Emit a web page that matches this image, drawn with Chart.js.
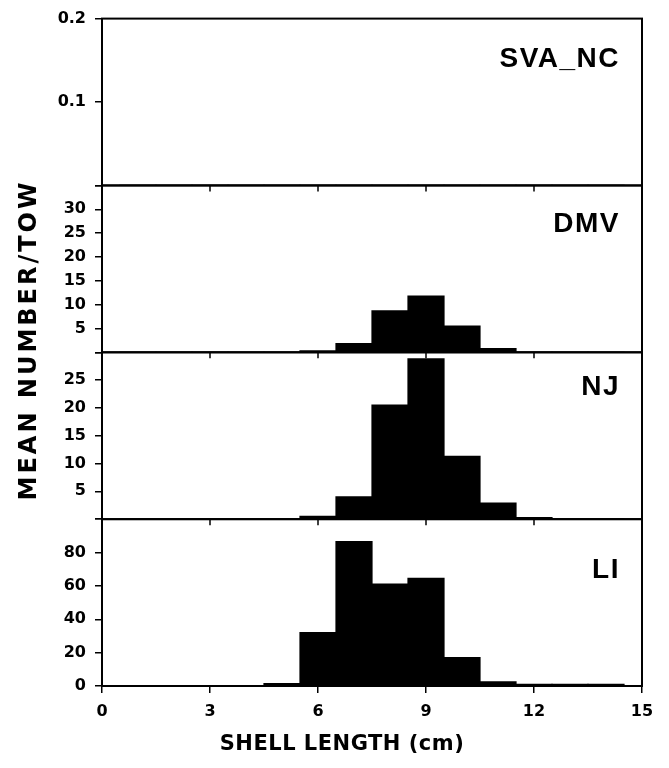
<!DOCTYPE html>
<html>
<head>
<meta charset="utf-8">
<script src="https://cdn.jsdelivr.net/npm/chart.js@4"></script>
<style>
  html, body { margin: 0; padding: 0; background: #fff; }
  #wrap { width: 669px; height: 768px; }
</style>
</head>
<body>
<div id="wrap"><canvas id="chart" width="669" height="768"></canvas></div>
<script>
// Shell length bins (cm, bin centres) and mean number per tow by region
const binCenters = [1, 2, 3, 4, 5, 6, 7, 8, 9, 10, 11, 12, 13, 14];
const svaNc = [0, 0, 0, 0, 0, 0, 0, 0, 0, 0, 0, 0, 0, 0];
const dmv   = [0, 0, 0, 0, 0, 0.3, 1.8, 8.7, 11.8, 5.5, 0.8, 0, 0, 0];
const nj    = [0, 0, 0, 0, 0, 0.5, 4, 20.5, 28.8, 11.3, 2.9, 0.3, 0, 0];
const li    = [0, 0, 0, 0, 1.5, 32, 86.5, 61, 64.5, 17, 2.5, 1, 1, 1];

const regionNames = ["SVA_NC", "DMV", "NJ", "LI"];
const regionSeries = [svaNc, dmv, nj, li];
const regionMax = [0.2, 35, 30, 100];
const regionStep = [0.1, 5, 5, 20];
const xTickStep = 3;

(function () {
  const ink = "#000";
  const tickFont = { family: "'DejaVu Sans'", size: 16, weight: "bold" };
  const labelDy = [41, 39, 35, 51];

  // y axes listed bottom-up: the last one listed ends up on top of the stack
  const scales = {
    x: {
      type: "linear", position: "bottom", min: 0, max: 15, offset: false,
      ticks: { stepSize: xTickStep, color: ink, font: tickFont, padding: 9, maxRotation: 0 },
      grid: { display: true, drawOnChartArea: false, drawTicks: true, tickLength: 7, color: ink, lineWidth: 1.5, offset: false },
      border: { display: true, color: ink, width: 2 },
      afterFit: s => { s.height = 82; }
    }
  };
  for (let i = regionNames.length - 1; i >= 0; i--) {
    const max = regionMax[i];
    scales["y" + i] = {
      type: "linear", position: "left", stack: "panels", stackWeight: 1,
      min: 0, max: max,
      ticks: {
        stepSize: regionStep[i], color: ink, font: tickFont, padding: 9, autoSkip: false,
        callback: v => {
          if (i === 3) return v === max ? "" : String(v);
          if (v === 0 || Math.abs(v - max) < 1e-9 && i !== 0) return "";
          return i === 0 ? v.toFixed(1) : String(v);
        }
      },
      grid: { display: true, drawOnChartArea: false, drawTicks: true, tickLength: 7, color: ink, lineWidth: 1.5 },
      border: { display: true, color: ink, width: 2 },
      afterFit: s => { s.width = 102; }
    };
  }

  const datasets = regionSeries.map((series, i) => ({
    label: regionNames[i],
    yAxisID: "y" + i,
    data: binCenters.map((c, k) => ({ x: c, y: series[k] })),
    backgroundColor: ink,
    borderWidth: 0,
    inflateAmount: 0.6,
    barPercentage: 1,
    categoryPercentage: 1,
    grouped: false
  }));

  const panelPlugin = {
    id: "panels",
    afterDraw(chart) {
      const ctx = chart.ctx;
      const area = chart.chartArea;
      const xs = chart.scales.x;
      ctx.save();
      ctx.strokeStyle = ink;
      ctx.fillStyle = ink;
      regionNames.forEach((name, i) => {
        const s = chart.scales["y" + i];
        ctx.lineWidth = 2;
        ctx.strokeRect(area.left, s.top, area.right - area.left, s.bottom - s.top);
        if (i < regionNames.length - 1) {
          ctx.lineWidth = 1.5;
          xs.ticks.forEach(t => {
            const px = xs.getPixelForValue(t.value);
            ctx.beginPath();
            ctx.moveTo(px, s.bottom);
            ctx.lineTo(px, s.bottom + 6);
            ctx.stroke();
          });
        }
        ctx.font = "bold 28px 'Liberation Sans'";
        ctx.letterSpacing = "1.5px";
        ctx.textAlign = "right";
        ctx.textBaseline = "middle";
        ctx.fillText(name, area.right - 22, s.top + labelDy[i]);
      });

      // y axis title
      ctx.save();
      ctx.translate(30, 340);
      ctx.rotate(-Math.PI / 2);
      ctx.font = "bold 24px 'DejaVu Sans'";
      ctx.letterSpacing = "3px";
      ctx.textAlign = "center";
      ctx.textBaseline = "middle";
      ctx.fillText("MEAN NUMBER/TOW", 0, 0);
      ctx.restore();

      // x axis title
      ctx.font = "bold 21px 'DejaVu Sans'";
      ctx.letterSpacing = "0.5px";
      ctx.textAlign = "center";
      ctx.textBaseline = "middle";
      ctx.fillText("SHELL LENGTH (cm)", 342, 745);
      ctx.restore();
    }
  };

  new Chart(document.getElementById("chart").getContext("2d"), {
    type: "bar",
    data: { datasets },
    options: {
      responsive: false,
      animation: false,
      layout: { padding: { left: 0, right: 27, top: 16, bottom: 0 } },
      plugins: { legend: { display: false }, tooltip: { enabled: false } },
      scales
    },
    plugins: [panelPlugin]
  });
})();
</script>
</body>
</html>
